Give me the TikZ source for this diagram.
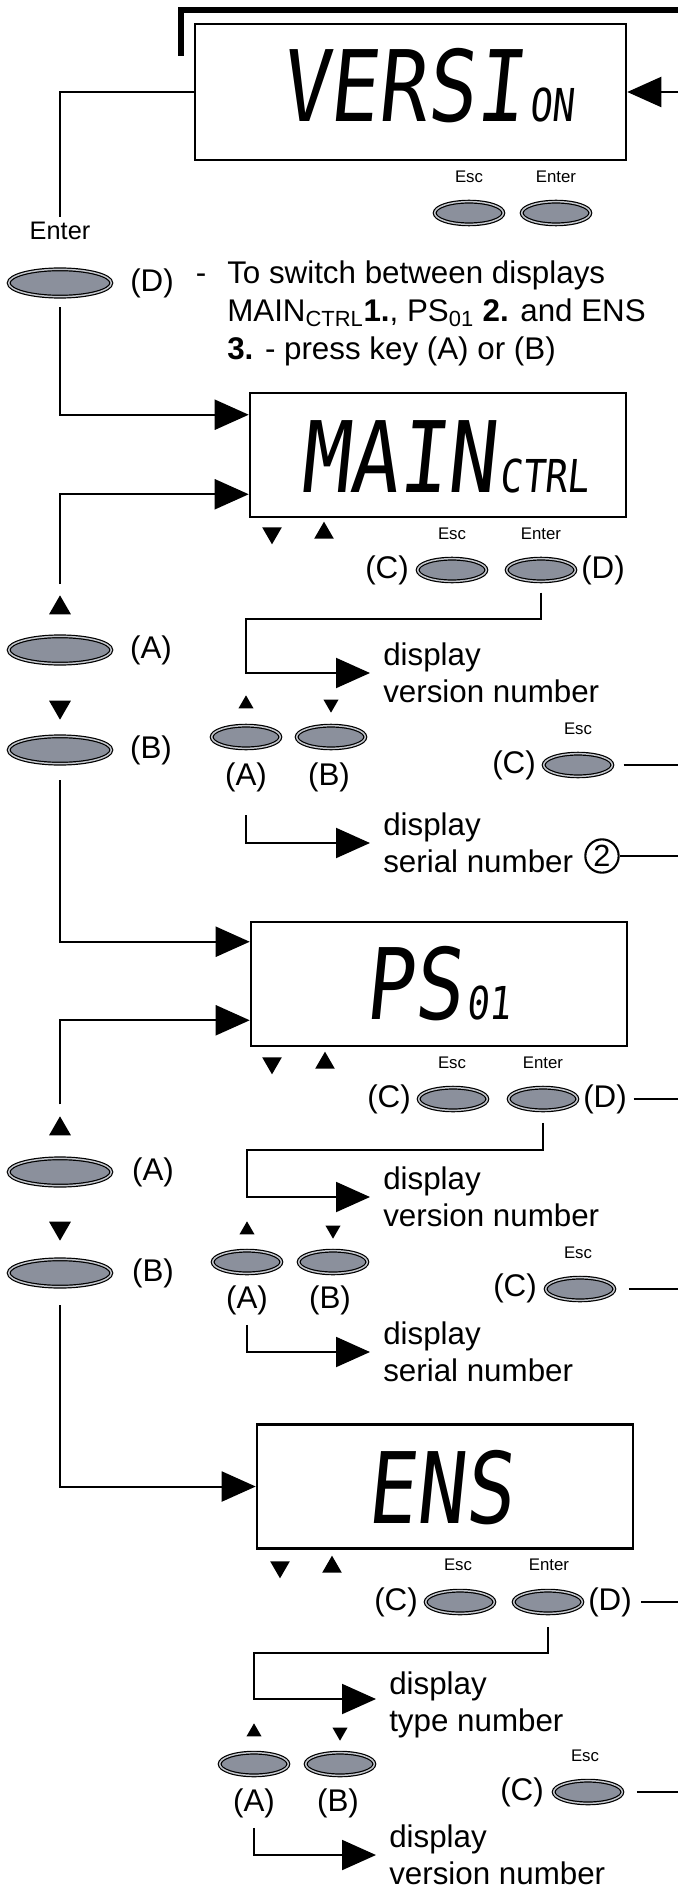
\documentclass[tikz,border=0pt]{standalone}
\usepackage{fontspec}
\setmainfont{Liberation Sans}
\newfontfamily\lcdfont[FakeSlant=0.1,FakeStretch=0.82]{DejaVu Sans Mono}
\usetikzlibrary{positioning,shapes.geometric,arrows.meta}
\definecolor{btngray}{RGB}{139,144,156}
\definecolor{btnring}{RGB}{196,199,205}
\begin{document}
\begin{tikzpicture}[x=0.75pt, y=-0.75pt,
every node/.style={inner sep=0pt},
lcd/.style={draw, line width=1.9pt, minimum width=282pt, minimum height=93pt},
lcdtext/.style={anchor=base, font=\lcdfont\fontsize{74}{74}\selectfont},
btn/.style={ellipse, draw=black, line width=0.9pt, double=btnring, double distance=1.1pt, fill=btngray, minimum width=51.5pt, minimum height=17pt},
bigbtn/.style={btn, minimum width=77pt, minimum height=20.5pt},
lbl/.style={font=\fontsize{23.5}{28}\selectfont},
keylbl/.style={font=\fontsize{12.6}{15}\selectfont},
flow/.style={line width=1.5pt},
arr/.style={flow, -{Triangle[length=25.5pt, width=22.5pt]}},
trup/.style={fill, regular polygon, regular polygon sides=3, minimum size=17pt},
trdown/.style={trup, shape border rotate=180},
smalltr/.style={minimum size=13pt}
]
\useasboundingbox (0,0) rectangle (678,1890);
\coordinate (rim) at (678,0);

\node[lcd, minimum width=323.25pt, minimum height=102pt] (versi) at (410.5,92) {};
\node[lcdtext] (versiTxt) at (427,122) {VERSI\kern4pt{\fontsize{34}{34}\selectfont ON}};
\coordinate (frameA) at (181,56);
\coordinate (frameB) at (678,10);
\draw[line width=3.8pt] (frameA) |- (frameB);
\draw[arr] (versi.east -| rim) -- (versi.east);
\node[keylbl] (vEscLbl) at (469,177) {Esc};
\node[keylbl] (vEnterLbl) at (556,177) {Enter};
\node[btn] (vEsc) at (469,213) {};
\node[btn] (vEnter) at (556,213) {};
\node[font=\fontsize{19}{22}\selectfont, inner sep=4pt] (enterLbl) at (60,231) {Enter};
\draw[flow] (versi.west) -| (enterLbl.north);
\node[bigbtn] (dBtn) at (60,283) {};
\node[lbl] (dLbl) at (152,283) {(D)};
\node[lbl, anchor=base] (hintDash) at (201,284) {-};
\node[lbl, font=\fontsize{23.5}{28.5}\selectfont, anchor=north west, align=left] (hint) at (227,261)
{To switch between displays\\MAIN\textsubscript{CTRL}\textbf{1.}, PS\textsubscript{01} \textbf{2.} and ENS\\\textbf{3.} - press key (A) or (B)};

\node[lcd] (mainBox) at (438,455) {};
\node[lcdtext] (mainTxt) at (445,492) {MAIN\kern3pt{\fontsize{34}{34}\selectfont CTRL}};
\draw[arr] ([yshift=-7.5pt]dBtn.south) |- ([yshift=-17.25pt]mainBox.north west);
\node[trdown] (mDownIco) at (272,533) {};
\node[trup] (mUpIco) at (324,533) {};
\node[keylbl] (mEscLbl) at (452,534) {Esc};
\node[keylbl] (mEnterLbl) at (541,534) {Enter};
\node[btn] (mEsc) at (452,570) {};
\node[btn] (mEnter) at (541,570) {};
\node[lbl] (mCLbl) at (387,570) {(C)};
\node[lbl] (mDLbl) at (603,570) {(D)};
\node[trup, minimum size=19pt] (mUpL) at (60,608) {};
\node[bigbtn] (mA) at (60,650) {};
\node[lbl] (mALbl) at (151,650) {(A)};
\node[trdown, minimum size=19pt] (mDownL) at (60,707) {};
\node[bigbtn] (mB) at (60,750) {};
\node[lbl] (mBLbl) at (151,750) {(B)};
\draw[arr] ([yshift=8pt]mUpL.north) |- ([yshift=18pt]mainBox.south west);
\coordinate (mTurn) at (246,619);
\node[lbl, anchor=west, align=left] (mVer) at (383,673) {display\\version number};
\draw[arr] ([yshift=-8pt]mEnter.south) |- (mTurn) |- ([xshift=-9.75pt]mVer.west);
\node[trup, smalltr] (mUpS) at (246,704) {};
\node[trdown, smalltr] (mDownS) at (331,704) {};
\node[btn] (mAs) at (246,737) {};
\node[btn] (mBs) at (331,737) {};
\node[lbl] (mAsLbl) at (246,777) {(A)};
\node[lbl] (mBsLbl) at (329,777) {(B)};
\node[keylbl] (mEsc2Lbl) at (578,729) {Esc};
\node[btn] (mEsc2) at (578,765) {};
\node[lbl] (mC2Lbl) at (514,765) {(C)};
\draw[flow] ([xshift=8pt]mEsc2.east) -- (mEsc2.east -| rim);
\node[lbl, anchor=west, align=left] (mSer) at (383,843) {display\\serial number};
\draw[arr] ([yshift=-17.5pt]mAsLbl.south) |- ([xshift=-9.75pt]mSer.west);
\node[draw, circle, line width=1.6pt, minimum size=25pt, font=\fontsize{23}{23}\selectfont] (circ2) at (602,856) {2};
\draw[flow] (circ2.east) -- (circ2.east -| rim);

\node[lcd] (psBox) at (439,984) {};
\node[lcdtext] (psTxt) at (438,1019) {PS\kern3pt{\fontsize{34}{34}\selectfont 01}};
\draw[arr] ([yshift=-12pt]mB.south) |- ([yshift=-15.75pt]psBox.north west);
\node[trdown] (pDownIco) at (272,1063) {};
\node[trup] (pUpIco) at (325,1063) {};
\node[keylbl] (pEscLbl) at (452,1063) {Esc};
\node[keylbl] (pEnterLbl) at (543,1063) {Enter};
\node[btn] (pEsc) at (453,1099) {};
\node[btn] (pEnter) at (543,1099) {};
\node[lbl] (pCLbl) at (389,1099) {(C)};
\node[lbl] (pDLbl) at (605,1099) {(D)};
\draw[flow] ([xshift=5pt]pDLbl.east) -- (pDLbl.east -| rim);
\node[trup, minimum size=19pt] (pUpL) at (60,1129) {};
\node[bigbtn] (pA) at (60,1172) {};
\node[lbl] (pALbl) at (153,1172) {(A)};
\node[trdown, minimum size=19pt] (pDownL) at (60,1228) {};
\node[bigbtn] (pB) at (60,1273) {};
\node[lbl] (pBLbl) at (153,1273) {(B)};
\draw[arr] ([yshift=8.5pt]pUpL.north) |- ([yshift=20.25pt]psBox.south west);
\coordinate (pTurn) at (247,1150);
\node[lbl, anchor=west, align=left] (pVer) at (383,1197) {display\\version number};
\draw[arr] ([yshift=-9pt]pEnter.south) |- (pTurn) |- ([xshift=-9.75pt]pVer.west);
\node[trup, smalltr] (pUpS) at (247,1230) {};
\node[trdown, smalltr] (pDownS) at (333,1230) {};
\node[btn] (pAs) at (247,1262) {};
\node[btn] (pBs) at (333,1262) {};
\node[lbl] (pAsLbl) at (247,1300) {(A)};
\node[lbl] (pBsLbl) at (330,1300) {(B)};
\node[keylbl] (pEsc2Lbl) at (578,1253) {Esc};
\node[btn] (pEsc2) at (580,1289) {};
\node[lbl] (pC2Lbl) at (515,1288) {(C)};
\draw[flow] ([xshift=10.5pt]pEsc2.east) -- (pEsc2.east -| rim);
\node[lbl, anchor=west, align=left] (pSer) at (383,1352) {display\\serial number};
\draw[arr] ([yshift=-7.5pt]pAsLbl.south) |- ([xshift=-9.75pt]pSer.west);

\node[lcd] (ensBox) at (445,1486.5) {};
\node[lcdtext] (ensTxt) at (440,1523) {ENS};
\draw[arr] ([yshift=-13.5pt]pB.south) |- (ensBox.west);
\node[trdown] (eDownIco) at (280,1567) {};
\node[trup] (eUpIco) at (332,1567) {};
\node[keylbl] (eEscLbl) at (458,1565) {Esc};
\node[keylbl] (eEnterLbl) at (549,1565) {Enter};
\node[btn] (eEsc) at (460,1602) {};
\node[btn] (eEnter) at (548,1602) {};
\node[lbl] (eCLbl) at (396,1602) {(C)};
\node[lbl] (eDLbl) at (610,1602) {(D)};
\draw[flow] ([xshift=7pt]eDLbl.east) -- (eDLbl.east -| rim);
\coordinate (eTurn) at (254,1653);
\node[lbl, anchor=west, align=left] (eType) at (389,1705) {display\\type number};
\draw[arr] ([yshift=-10pt]eEnter.south) |- (eTurn) |- ([xshift=-9.75pt, yshift=4.5pt]eType.west);
\node[trup, smalltr] (eUpS) at (254,1732) {};
\node[trdown, smalltr] (eDownS) at (340,1732) {};
\node[btn] (eAs) at (254,1764) {};
\node[btn] (eBs) at (340,1764) {};
\node[lbl] (eAsLbl) at (254,1803) {(A)};
\node[lbl] (eBsLbl) at (338,1803) {(B)};
\node[keylbl] (eEsc2Lbl) at (585,1756) {Esc};
\node[btn] (eEsc2) at (588,1792) {};
\node[lbl] (eC2Lbl) at (522,1792) {(C)};
\draw[flow] ([xshift=10.5pt]eEsc2.east) -- (eEsc2.east -| rim);
\node[lbl, anchor=west, align=left] (eVer) at (389,1855) {display\\version number};
\draw[arr] ([yshift=-7.5pt]eAsLbl.south) |- ([xshift=-9.75pt]eVer.west);
\end{tikzpicture}
\end{document}
